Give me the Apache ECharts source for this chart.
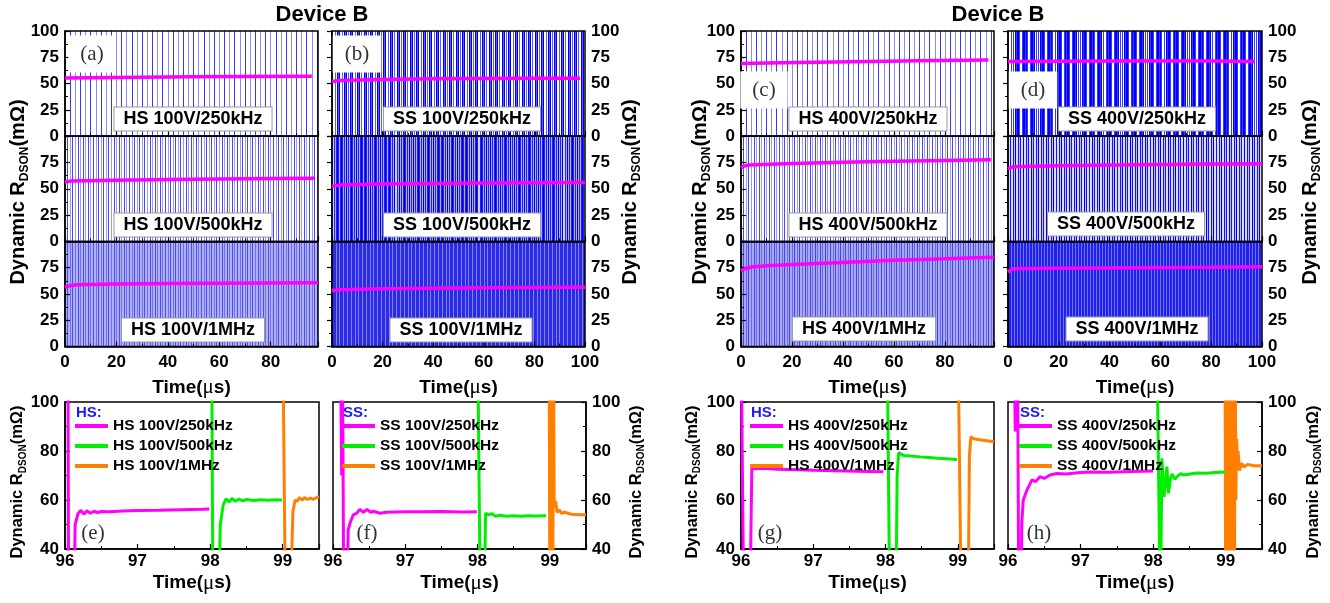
<!DOCTYPE html>
<html><head><meta charset="utf-8">
<script src="https://cdn.jsdelivr.net/npm/echarts@6/dist/echarts.min.js"></script>
<style>html,body{margin:0;padding:0;background:#fff}#c{width:1330px;height:603px}</style>
</head><body><div id="c"></div>
<script>
// ================= DATA =================
const titleText = 'Device B';
// tick labels
const topTimeTicks = [0, 20, 40, 60, 80, 100];
const topRdsTicks = [0, 25, 50, 75, 100];
const zoomTimeTicks = [96, 97, 98, 99];
const zoomRdsTicks = [40, 60, 80, 100];
// axis extents (µs)
const topTimeMax = [98.4, 100, 99.2, 100];
const zoomTimeMax = 99.5;

const topPanelLetters = ['(a)', '(b)', '(c)', '(d)'];
const zoomPanelLetters = ['(e)', '(f)', '(g)', '(h)'];
const zoomGroupLabels = ['HS:', 'SS:', 'HS:', 'SS:'];
const caseHS100 = ['HS 100V/250kHz', 'HS 100V/500kHz', 'HS 100V/1MHz'];
const caseSS100 = ['SS 100V/250kHz', 'SS 100V/500kHz', 'SS 100V/1MHz'];
const caseHS400 = ['HS 400V/250kHz', 'HS 400V/500kHz', 'HS 400V/1MHz'];
const caseSS400 = ['SS 400V/250kHz', 'SS 400V/500kHz', 'SS 400V/1MHz'];

// on-state dynamic RDSON trend over 100 µs  [time µs, mΩ]
const trendHS100_250k = [[0,55.3],[10,55.6],[30,56.0],[50,56.4],[70,56.7],[96,57.0]];
const trendHS100_500k = [[0,56.5],[2,57.3],[20,58.2],[40,58.8],[60,59.3],[80,59.7],[97,60.0]];
const trendHS100_1M   = [[0,56.5],[2,58.0],[5,58.8],[20,59.5],[40,60.0],[60,60.3],[80,60.5],[98.4,60.6]];
const trendSS100_250k = [[0,52.0],[3,53.0],[20,54.0],[40,54.5],[60,54.8],[80,55.0],[98,55.0]];
const trendSS100_500k = [[0,52.5],[3,53.5],[20,54.5],[40,55.0],[60,55.4],[80,55.8],[100,56.0]];
const trendSS100_1M   = [[0,53.0],[3,54.0],[20,55.0],[40,55.5],[60,56.0],[80,56.2],[100,56.4]];
const trendHS400_250k = [[0,69.0],[10,69.5],[30,70.3],[50,71.0],[70,71.7],[97,72.4]];
const trendHS400_500k = [[0,70.0],[1,71.5],[3,72.7],[20,74.0],[40,75.2],[60,76.2],[80,77.0],[98,77.5]];
const trendHS400_1M   = [[0,72.0],[2,74.5],[5,76.0],[10,76.8],[20,78.0],[40,80.0],[60,82.0],[80,83.5],[99.2,85.0]];
const trendSS400_250k = [[0,71.0],[20,71.2],[50,71.5],[80,71.4],[97,71.0]];
const trendSS400_500k = [[0,69.0],[2,71.0],[20,71.8],[50,72.8],[80,73.5],[100,73.8]];
const trendSS400_1M   = [[0,71.0],[2,74.0],[20,74.5],[50,75.0],[80,75.5],[100,76.0]];

// zoomed waveforms 96–99.5 µs [time µs, mΩ]
const zoomHS100_250k = [[96.0,130],[96.04,130],[96.05,10],[96.12,10],[96.14,50],[96.18,54.5],[96.22,55.8],[96.26,54.2],[96.3,55.6],[96.35,54.6],[96.4,55.4],[96.45,54.9],[96.5,55.3],[96.6,55.2],[96.8,55.5],[97.0,55.7],[97.3,55.8],[97.6,56.0],[97.9,56.2],[97.99,56.3]];
const zoomHS100_500k = [[98.02,130],[98.04,10],[98.11,10],[98.14,50],[98.18,58],[98.22,60.5],[98.26,59.2],[98.3,60.6],[98.35,59.5],[98.4,60.4],[98.45,59.6],[98.5,60.2],[98.6,59.8],[98.7,60.1],[98.8,59.9],[98.9,60.1],[98.99,60.0]];
const zoomHS100_1M   = [[99.0,130],[99.04,10],[99.1,10],[99.14,55],[99.17,60],[99.2,59.5],[99.23,61],[99.27,60],[99.3,61],[99.34,60.2],[99.38,60.8],[99.42,60.3],[99.46,60.9],[99.5,61.5]];
const zoomSS100_250k = [[96.1,130],[96.12,70],[96.13,130],[96.15,10],[96.19,10],[96.21,47.8],[96.24,51],[96.28,53.9],[96.33,54.6],[96.37,56.2],[96.42,55],[96.47,56.2],[96.52,55],[96.56,55.4],[96.65,54.6],[96.74,55],[97.0,55.2],[97.2,55.2],[97.5,55.3],[97.8,55.1],[97.99,55.2]];
const zoomSS100_500k = [[98.0,130],[98.04,10],[98.09,10],[98.11,54.6],[98.15,54],[98.2,54.4],[98.25,53.3],[98.3,53.8],[98.4,53.4],[98.5,53.6],[98.6,53.4],[98.7,53.6],[98.8,53.5],[98.95,53.6]];
const zoomSS100_1M   = [[98.99,130],[99.0,10],[99.01,130],[99.02,10],[99.03,130],[99.04,10],[99.05,130],[99.06,57],[99.08,59.5],[99.1,55],[99.13,56],[99.16,54.5],[99.2,55],[99.3,54.2],[99.4,54],[99.5,54]];
const zoomHS400_250k = [[96.0,130],[96.04,10],[96.12,10],[96.15,73],[96.2,72.8],[96.3,73],[96.5,72.6],[96.8,72.3],[97.0,72.1],[97.3,71.9],[97.6,71.7],[97.97,71.5]];
const zoomHS400_500k = [[98.02,130],[98.06,10],[98.14,10],[98.16,70],[98.18,79.2],[98.2,78.5],[98.25,78.2],[98.35,78],[98.48,77.6],[98.6,77.3],[98.71,77],[98.85,76.8],[98.99,76.5]];
const zoomHS400_1M   = [[99.0,130],[99.05,10],[99.14,10],[99.16,78],[99.18,85.8],[99.22,85],[99.3,84.6],[99.4,84.2],[99.5,83.8]];
const zoomSS400_250k = [[96.08,130],[96.1,88],[96.11,130],[96.12,92],[96.13,130],[96.15,10],[96.18,10],[96.19,50.5],[96.21,60],[96.26,64],[96.33,68.2],[96.38,67.5],[96.44,69.5],[96.5,68.8],[96.58,70.2],[96.67,70.8],[96.8,70.6],[97.0,71.2],[97.13,71.4],[97.4,71.3],[97.7,71.6],[98.0,71.8]];
const zoomSS400_500k = [[98.05,130],[98.1,10],[98.11,10],[98.12,77],[98.15,61.3],[98.19,73.6],[98.21,62.7],[98.24,69],[98.26,70.6],[98.3,68.5],[98.33,69.5],[98.38,70.8],[98.42,70.2],[98.51,70.6],[98.6,71],[98.74,70.9],[98.85,71.2],[98.99,71.4]];
const zoomSS400_1M   = [[98.99,130],[99.0,10],[99.01,130],[99.02,10],[99.03,130],[99.04,10],[99.05,130],[99.06,10],[99.07,130],[99.08,10],[99.09,130],[99.1,10],[99.11,130],[99.12,10],[99.13,130],[99.14,60],[99.15,85],[99.16,78],[99.17,80],[99.19,72],[99.22,75],[99.25,73.5],[99.3,74.5],[99.4,74],[99.5,74]];

// ================= LAYOUT / STYLE =================
const SANS = "'Liberation Sans', Arial, Helvetica, sans-serif";
const SERIF = "'Liberation Serif', 'Times New Roman', serif";
const zoomColors = ['#ff00ff', '#00ee00', '#ff8000'];

const topCases = [caseHS100, caseSS100, caseHS400, caseSS400];
const topTrends = [
  [trendHS100_250k, trendHS100_500k, trendHS100_1M],
  [trendSS100_250k, trendSS100_500k, trendSS100_1M],
  [trendHS400_250k, trendHS400_500k, trendHS400_1M],
  [trendSS400_250k, trendSS400_500k, trendSS400_1M]];
const zoomSeries = [
  [zoomHS100_250k, zoomHS100_500k, zoomHS100_1M],
  [zoomSS100_250k, zoomSS100_500k, zoomSS100_1M],
  [zoomHS400_250k, zoomHS400_500k, zoomHS400_1M],
  [zoomSS400_250k, zoomSS400_500k, zoomSS400_1M]];

const topCols = [
  {left: 65, width: 253, side: 'left', yName: 18},
  {left: 332, width: 253, side: 'right', yName: 630},
  {left: 741, width: 253, side: 'left', yName: 700},
  {left: 1008, width: 254, side: 'right', yName: 1310}];
const topY0 = 31, rowH = 105.2;
const topLetterPos = [[92, 54], [357, 54], [764, 90], [1033, 90]];
const topBoxPos = [
  [[193,119],[193,225],[193,330]],
  [[462,119],[462,225],[461,330]],
  [[868,119],[868,225],[864,329]],
  [[1137,119],[1126,224],[1137,329]]];
// switching-edge texture (style of the raw waveform): spacing µs, width, colors
const TEX = [
  [ {bg:'#ffffff', lines:[{iv:2, w:1, c:['#3535ff','#8a8aff']}]},
    {bg:'#ffffff', lines:[{iv:1, w:1, c:['#4545ff','#9a9aff']}]},
    {bg:'#b0b0f6', lines:[{iv:1, w:1, c:['#4c4cf0','#7070f2']}]} ],
  [ {bg:'#ffffff', lines:[{iv:2.6, w:3, c:'#0000ee'},{iv:1.3, w:1, c:'#5a5aff'}]},
    {bg:'#ffffff', lines:[{iv:0.8, w:1.4, c:'#2020ff'},{iv:1.9, w:1, c:'#0000cc'}]},
    {bg:'#2b2be6', lines:[{iv:1.5, w:1, c:'rgba(150,150,255,0.8)'}]} ],
  [ {bg:'#ffffff', lines:[{iv:2, w:1, c:['#3535ff','#8a8aff']}]},
    {bg:'#ffffff', lines:[{iv:1, w:1, c:['#4545ff','#9a9aff']}]},
    {bg:'#a8a8f4', lines:[{iv:1, w:1, c:['#4444ee','#6868f0']}]} ],
  [ {bg:'#ffffff', lines:[{iv:3.3, w:4, c:'#0000ff'},{iv:1.1, w:1, c:'#3a3aff'}]},
    {bg:'#ffffff', lines:[{iv:1, w:1.3, c:'#1212ff'},{iv:3, w:1, c:'#0000dd'}]},
    {bg:'#2020ee', lines:[{iv:1.2, w:1, c:'rgba(150,150,255,0.7)'}]} ]];

const zoomCols = [
  {left: 65, width: 254, side: 'left', yName: 17.5, tx: 76},
  {left: 333, width: 253, side: 'right', yName: 636, tx: 343},
  {left: 741, width: 253, side: 'left', yName: 692, tx: 751},
  {left: 1008, width: 254, side: 'right', yName: 1313, tx: 1020}];
const zoomTop = 402, zoomH = 147;
const zoomLetterPos = [[93, 533], [367, 533], [770, 533], [1039, 533]];

// ================= BUILD =================
const grids = [], xAxes = [], yAxes = [], series = [], graphics = [], legends = [];
const axisLine = {show: true, lineStyle: {color: '#000', width: 1.5}};
const lblStyle = {color: '#000', fontSize: 17, fontWeight: 'bold', fontFamily: SANS};
const timeName = '{a|Time(}{m|\u03bc}{a|s)}';
const timeRich = {
  a: {fontSize: 19, fontWeight: 'bold', fontFamily: SANS, color: '#000', lineHeight: 22},
  m: {fontSize: 21, fontWeight: 'normal', fontFamily: SERIF, color: '#000', lineHeight: 22}};

function yNameGraphic(x, y, size) {
  graphics.push({type: 'text', x: x, y: y, rotation: Math.PI / 2, z: 100, silent: true,
    style: {text: '{a|Dynamic R}{s|DSON}{a|(m\u03a9)}', align: 'center', verticalAlign: 'middle',
      rich: {
        a: {fontSize: size, fontWeight: 'bold', fontFamily: SANS, fill: '#000', color: '#000', lineHeight: size * 1.25},
        s: {fontSize: Math.round(size * 0.62), fontWeight: 'bold', fontFamily: SANS, fill: '#000', color: '#000', lineHeight: Math.round(size * 0.62), verticalAlign: 'bottom'}}}});
}

// top panels
topCols.forEach((col, c) => {
  for (let r = 0; r < 3; r++) {
    const top = topY0 + r * rowH;
    const gi = grids.length;
    grids.push({left: col.left, top: top, width: col.width, height: rowH, show: true,
      borderColor: '#000', borderWidth: 1.5, backgroundColor: 'transparent', z: 0});
    const tex = TEX[c][r];
    graphics.push({type: 'rect', z: -10, silent: true,
      shape: {x: col.left, y: top, width: col.width, height: rowH}, style: {fill: tex.bg}});
    const last = r === 2;
    const xi = xAxes.length;
    xAxes.push({type: 'value', gridIndex: gi, min: topTimeTicks[0], max: topTimeMax[c],
      interval: topTimeTicks[1] - topTimeTicks[0], position: 'bottom', z: 3,
      axisLine: axisLine,
      axisTick: {show: true, inside: true, length: 5, lineStyle: {color: '#000', width: 1.2}},
      minorTick: {show: true, splitNumber: 2, length: 3, lineStyle: {color: '#000', width: 1}},
      splitLine: {show: false},
      axisLabel: {show: last, margin: 7, showMaxLabel: topTimeMax[c] === 100, ...lblStyle},
      name: last ? timeName : '', nameLocation: 'middle', nameGap: 30,
      nameTextStyle: {rich: timeRich}});
    tex.lines.forEach(L => {
      xAxes.push({type: 'value', gridIndex: gi, min: 0, max: topTimeMax[c], interval: L.iv,
        position: 'top', z: -1, silent: true,
        axisLine: {show: false}, axisTick: {show: false}, axisLabel: {show: false},
        splitLine: {show: true, showMinLine: false, showMaxLine: false,
          lineStyle: {color: L.c, width: L.w}}});
    });
    const yi = yAxes.length;
    yAxes.push({type: 'value', gridIndex: gi, min: topRdsTicks[0], max: topRdsTicks[topRdsTicks.length - 1],
      interval: topRdsTicks[1] - topRdsTicks[0], position: col.side, z: 3,
      axisLine: axisLine,
      axisTick: {show: true, inside: true, length: 5, lineStyle: {color: '#000', width: 1.2}},
      minorTick: {show: true, splitNumber: 2, length: 3, lineStyle: {color: '#000', width: 1}},
      splitLine: {show: false},
      axisLabel: {margin: 6, showMaxLabel: r === 0, ...lblStyle}});
    series.push({type: 'line', name: 'trend-' + topCases[c][r], xAxisIndex: xi, yAxisIndex: yi,
      data: topTrends[c][r], showSymbol: false, symbol: 'none', z: 5, silent: true,
      lineStyle: {color: '#ff00ff', width: 3.5}, color: '#ff00ff'});
    const bp = topBoxPos[c][r];
    graphics.push({type: 'text', x: bp[0], y: bp[1], z: 100, silent: true,
      style: {text: topCases[c][r], align: 'center', verticalAlign: 'middle',
        fontSize: 18, fontWeight: 'bold', fontFamily: SANS, fill: '#000',
        backgroundColor: '#fff', borderColor: '#999', borderWidth: 1, padding: [3, 9, 2, 9]}});
  }
  const lp = topLetterPos[c];
  graphics.push({type: 'text', x: lp[0], y: lp[1], z: 100, silent: true,
    style: {text: topPanelLetters[c], align: 'center', verticalAlign: 'middle',
      fontSize: 21, fontFamily: SERIF, fill: '#333', backgroundColor: '#fff', padding: [8, 12, 8, 12]}});
  yNameGraphic(col.yName, 192, 20);
});

// zoom panels
zoomCols.forEach((col, c) => {
  const gi = grids.length;
  grids.push({left: col.left, top: zoomTop, width: col.width, height: zoomH, show: true,
    borderColor: '#000', borderWidth: 1.5, backgroundColor: '#fff', z: 0});
  const xi = xAxes.length;
  xAxes.push({type: 'value', gridIndex: gi, min: zoomTimeTicks[0], max: zoomTimeMax,
    interval: zoomTimeTicks[1] - zoomTimeTicks[0], z: 3,
    axisLine: axisLine,
    axisTick: {show: true, inside: true, length: 5, lineStyle: {color: '#000', width: 1.2}},
    minorTick: {show: true, splitNumber: 2, length: 3, lineStyle: {color: '#000', width: 1}},
    splitLine: {show: false},
    axisLabel: {margin: 4, showMaxLabel: false, ...lblStyle},
    name: timeName, nameLocation: 'middle', nameGap: 23, nameTextStyle: {rich: timeRich}});
  const yi = yAxes.length;
  yAxes.push({type: 'value', gridIndex: gi, min: zoomRdsTicks[0], max: zoomRdsTicks[zoomRdsTicks.length - 1],
    interval: zoomRdsTicks[1] - zoomRdsTicks[0], position: col.side, z: 3,
    axisLine: axisLine,
    axisTick: {show: true, inside: true, length: 5, lineStyle: {color: '#000', width: 1.2}},
    minorTick: {show: true, splitNumber: 2, length: 3, lineStyle: {color: '#000', width: 1}},
    splitLine: {show: false},
    axisLabel: {margin: 6, ...lblStyle}});
  const names = topCases[c];
  names.forEach((nm, k) => {
    series.push({type: 'line', name: nm, xAxisIndex: xi, yAxisIndex: yi, data: zoomSeries[c][k],
      showSymbol: false, symbol: 'none', z: 4 - k * 0.1, clip: true,
      color: zoomColors[k], lineStyle: {color: zoomColors[k], width: 3}});
  });
  legends.push({data: names, orient: 'vertical', left: col.tx - 1, top: 418, padding: 0,
    itemWidth: 33, itemHeight: 4, itemGap: 4, icon: 'rect', selectedMode: false, z: 50,
    textStyle: {fontSize: 15.5, fontWeight: 'bold', fontFamily: SANS, color: '#000', lineHeight: 16, padding: [0, 0, 0, 0]}});
  graphics.push({type: 'text', x: col.tx, y: 413, z: 100, silent: true,
    style: {text: zoomGroupLabels[c], align: 'left', verticalAlign: 'middle',
      fontSize: 15, fontWeight: 'bold', fontFamily: SANS, fill: '#1a1aff'}});
  const lp = zoomLetterPos[c];
  graphics.push({type: 'text', x: lp[0], y: lp[1], z: 100, silent: true,
    style: {text: zoomPanelLetters[c], align: 'center', verticalAlign: 'middle',
      fontSize: 21, fontFamily: SERIF, fill: '#333'}});
  yNameGraphic(col.yName, 482, 16.5);
});

// titles
[[322, 15], [998, 15]].forEach(p => {
  graphics.push({type: 'text', x: p[0], y: p[1], z: 100, silent: true,
    style: {text: titleText, align: 'center', verticalAlign: 'middle',
      fontSize: 22, fontWeight: 'bold', fontFamily: SANS, fill: '#000'}});
});

const chart = echarts.init(document.getElementById('c'), null, {renderer: 'canvas'});
chart.setOption({
  animation: false,
  backgroundColor: '#fff',
  grid: grids, xAxis: xAxes, yAxis: yAxes, series: series, legend: legends,
  graphic: {elements: graphics}
});
</script></body></html>
